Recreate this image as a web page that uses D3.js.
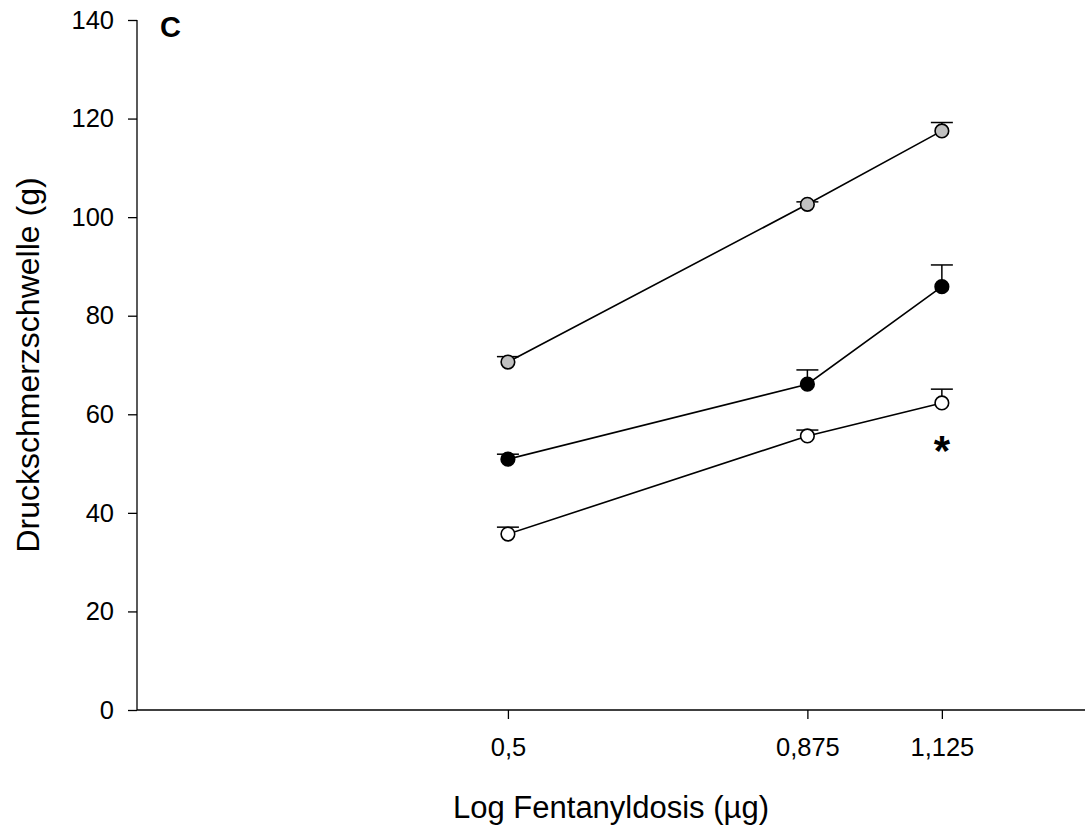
<!DOCTYPE html>
<html>
<head>
<meta charset="utf-8">
<script src="https://cdn.jsdelivr.net/npm/d3@7"></script>
<style>
  html, body { margin: 0; padding: 0; background: #fff; }
  svg { display: block; font-family: "Liberation Sans", Arial, sans-serif; }
</style>
</head>
<body>
<svg id="chart" width="1085" height="827"></svg>
<script>
// ---- data ----
const doses = [0.5, 0.875, 1.125];
const doseLabels = ["0,5", "0,875", "1,125"];
const yTicks = [0, 20, 40, 60, 80, 100, 120, 140];

const grayMean  = [70.6, 102.6, 117.5];
const grayErr   = [1.1, 0.5, 1.7];
const blackMean = [50.9, 66.1, 85.9];
const blackErr  = [1.0, 2.9, 4.4];
const whiteMean = [35.7, 55.6, 62.3];
const whiteErr  = [1.4, 1.2, 2.8];

const seriesFill = ["#c0c0c0", "#000000", "#ffffff"];

const panelLabel = "C";
const xTitle = "Log Fentanyldosis (µg)";
const yTitle = "Druckschmerzschwelle (g)";
const sigMark = "*";
const sigDose = 1.125;

// ---- layout ----
const svg = d3.select("#chart");
const pLeft = 137, pRight = 1085, pTop = 20, pBottom = 710;

const x = d3.scaleLog().domain([0.25, 1.47]).range([pLeft, pRight]);
const y = d3.scaleLinear().domain([0, 140]).range([pBottom, pTop]);

const series = [
  { means: grayMean, errs: grayErr, fill: seriesFill[0] },
  { means: blackMean, errs: blackErr, fill: seriesFill[1] },
  { means: whiteMean, errs: whiteErr, fill: seriesFill[2] }
].map(s => ({ ...s, pts: doses.map((d, i) => ({ d, m: s.means[i], e: s.errs[i] })) }));

// axes
const yAxis = d3.axisLeft(y).tickValues(yTicks).tickSize(9).tickPadding(14).tickFormat(d3.format("d"));
const gy = svg.append("g").attr("transform", `translate(${pLeft},0)`).call(yAxis);
const xAxis = d3.axisBottom(x).tickValues(doses).tickSize(9).tickPadding(19)
  .tickFormat((d, i) => doseLabels[i]);
const gx = svg.append("g").attr("transform", `translate(0,${pBottom})`).call(xAxis);

[gx, gy].forEach(g => {
  g.select(".domain").attr("stroke", "#000").attr("stroke-width", 1.3);
  g.selectAll(".tick line").attr("stroke", "#000").attr("stroke-width", 1.3);
  g.selectAll(".tick text").attr("fill", "#000").style("font-size", "25.5px")
    .style("font-family", '"Liberation Sans", Arial, sans-serif');
});
gx.select(".domain").attr("d", `M${pLeft},0H${pRight}`);
gy.select(".domain").attr("d", `M0,${pTop}V${pBottom}`);

// titles
svg.append("text").attr("x", (pLeft + pRight) / 2).attr("y", 818)
  .attr("text-anchor", "middle").style("font-size", "31px").text(xTitle);
svg.append("text").attr("transform", `translate(39,${(pTop + pBottom) / 2}) rotate(-90)`)
  .attr("text-anchor", "middle").style("font-size", "32px").text(yTitle);
svg.append("text").attr("x", 160).attr("y", 37)
  .style("font-size", "29px").style("font-weight", "bold").text(panelLabel);

// data
const line = d3.line().x(p => x(p.d)).y(p => y(p.m));
const g = svg.append("g");
series.forEach(s => {
  const sg = g.append("g");
  sg.selectAll("line.err").data(s.pts).join("line").attr("class", "err")
    .attr("x1", p => x(p.d)).attr("x2", p => x(p.d))
    .attr("y1", p => y(p.m)).attr("y2", p => y(p.m + p.e))
    .attr("stroke", "#000").attr("stroke-width", 1.5);
  sg.selectAll("line.cap").data(s.pts).join("line").attr("class", "cap")
    .attr("x1", p => x(p.d) - 11).attr("x2", p => x(p.d) + 11)
    .attr("y1", p => y(p.m + p.e)).attr("y2", p => y(p.m + p.e))
    .attr("stroke", "#000").attr("stroke-width", 1.5);
  sg.append("path").datum(s.pts).attr("d", line)
    .attr("fill", "none").attr("stroke", "#000").attr("stroke-width", 1.6);
  sg.selectAll("circle").data(s.pts).join("circle")
    .attr("cx", p => x(p.d)).attr("cy", p => y(p.m)).attr("r", 6.8)
    .attr("fill", s.fill).attr("stroke", "#000").attr("stroke-width", 1.6);
});

// significance marker below the white series at the top dose
const wi = doses.indexOf(sigDose);
svg.append("text").attr("x", x(sigDose)).attr("y", y(whiteMean[wi]) + 62)
  .attr("text-anchor", "middle").style("font-size", "42px").style("font-weight", "bold")
  .text(sigMark);
</script>
</body>
</html>
